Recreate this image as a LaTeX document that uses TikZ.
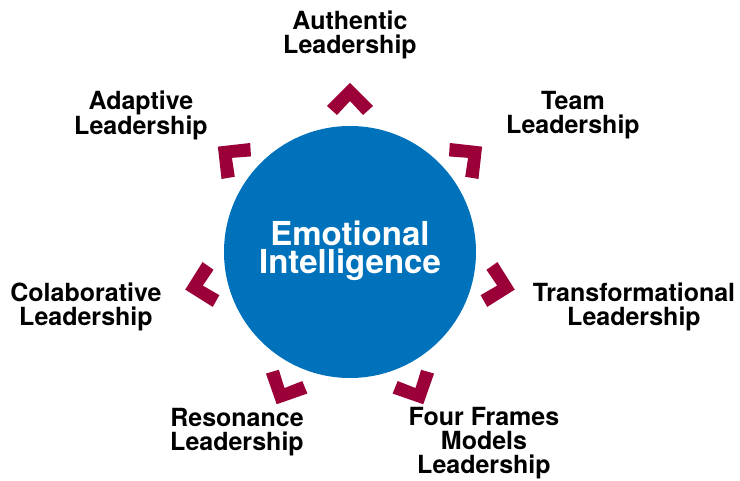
\documentclass[tikz,border=0pt]{standalone}
\usepackage{fontspec}
\setmainfont{TeX Gyre Heros}
\usepackage{tikz}
\definecolor{eiblue}{RGB}{0,114,187}
\definecolor{chevred}{RGB}{155,0,57}

\begin{document}
\begin{tikzpicture}[x=1pt,y=1pt,
    lead/.style={align=center,inner sep=0pt,font=\fontsize{25}{24}\selectfont\bfseries},
    chevron/.style={fill=chevred}]
    \useasboundingbox (-350,-229) rectangle (390,252);
    \fill[eiblue] (0,0) circle (126);
    \node[align=center,inner sep=0pt,text=white,font=\fontsize{33}{28}\selectfont\bfseries] (ei) at (0,1) {Emotional\\Intelligence};
    % chevrons
    \fill[chevron,shift={(90:169)},rotate=90] (0,0) -- (-23,23) -- (-32,13) -- (-18,0) -- (-32,-13) -- (-23,-23) -- cycle;
    \fill[chevron,shift={(38.57:169)},rotate=38.57] (0,0) -- (-23,23) -- (-32,13) -- (-18,0) -- (-32,-13) -- (-23,-23) -- cycle;
    \fill[chevron,shift={(-12.86:169)},rotate=-12.86] (0,0) -- (-23,23) -- (-32,13) -- (-18,0) -- (-32,-13) -- (-23,-23) -- cycle;
    \fill[chevron,shift={(-64.29:169)},rotate=-64.29] (0,0) -- (-23,23) -- (-32,13) -- (-18,0) -- (-32,-13) -- (-23,-23) -- cycle;
    \fill[chevron,shift={(-115.71:169)},rotate=-115.71] (0,0) -- (-23,23) -- (-32,13) -- (-18,0) -- (-32,-13) -- (-23,-23) -- cycle;
    \fill[chevron,shift={(-167.14:169)},rotate=-167.14] (0,0) -- (-23,23) -- (-32,13) -- (-18,0) -- (-32,-13) -- (-23,-23) -- cycle;
    \fill[chevron,shift={(141.43:169)},rotate=141.43] (0,0) -- (-23,23) -- (-32,13) -- (-18,0) -- (-32,-13) -- (-23,-23) -- cycle;
    % labels
    \node[lead] (authentic) at (0,217) {Authentic\\Leadership};
    \node[lead] (team) at (223,137) {Team\\Leadership};
    \node[lead] (transformational) at (284,-55) {Transformational\\Leadership};
    \node[lead] (fourframes) at (134,-191) {Four Frames\\Models\\Leadership};
    \node[lead] (resonance) at (-113,-180) {Resonance\\Leadership};
    \node[lead] (colaborative) at (-264,-55) {Colaborative\\Leadership};
    \node[lead] (adaptive) at (-209,137) {Adaptive\\Leadership};
\end{tikzpicture}
\end{document}
